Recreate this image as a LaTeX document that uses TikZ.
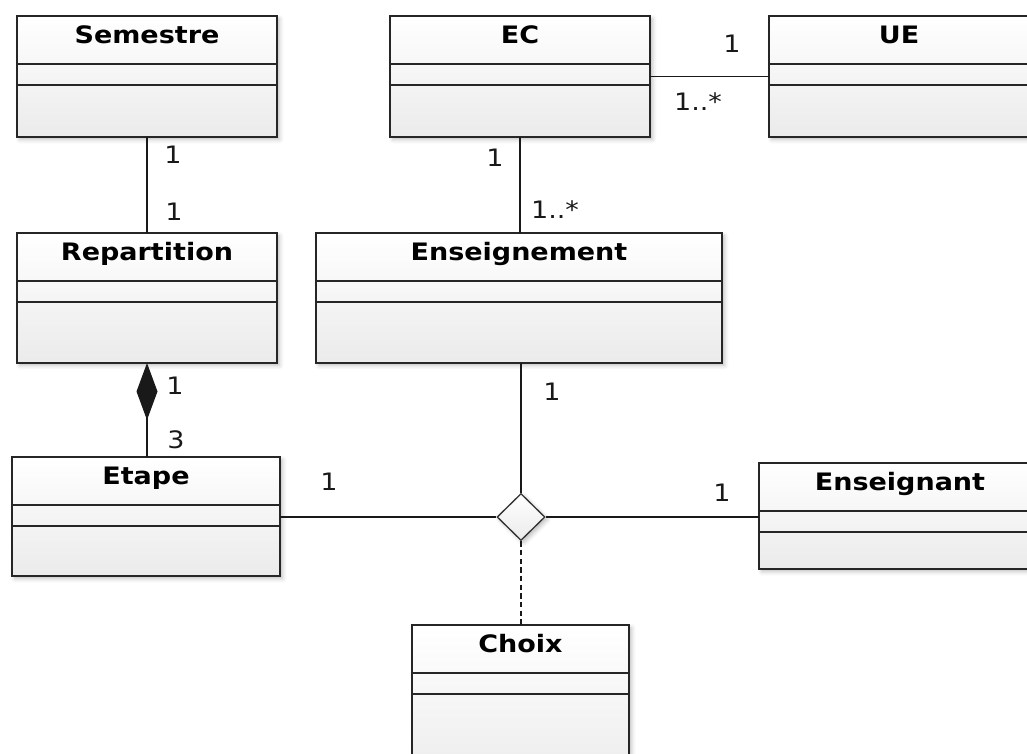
\documentclass[tikz,border=0pt]{standalone}
\usepackage{fontspec}
\usepackage{tikz}
\usetikzlibrary{calc,arrows.meta,shapes.geometric,shadows.blur}
\newfontfamily\classfont{DejaVu Sans}[FakeStretch=1.125]

\tikzset{
	classbox/.style={draw=black!85, line width=1.1pt, inner sep=0pt, outer sep=0pt,
		top color=white, bottom color=black!8,
		blur shadow={shadow xshift=2pt, shadow yshift=-2pt, shadow blur radius=3pt, shadow opacity=25}},
	classline/.style={line width=1.1pt, color=black!85},
	classtitle/.style={anchor=base, inner sep=0pt, font=\classfont\bfseries\fontsize{18}{21}\selectfont},
	mult/.style={anchor=base, inner sep=0pt, font=\classfont\fontsize{18}{21}\selectfont, color=black!90},
	connector/.style={line width=1pt, color=black!90},
}
% name, left, top, right, bottom, title (pixel coordinates)
\newcommand\umlclass[6]{%
	\node[classbox, minimum width={(#4-#2)*0.75pt}, minimum height={(#5-#3)*0.75pt}] (#1) at ({(#2+#4)/2}, {(#3+#5)/2}) {};
	\draw[classline] ([yshift=-36pt]#1.north west) -- ([yshift=-36pt]#1.north east);
	\draw[classline] ([yshift=-51.75pt]#1.north west) -- ([yshift=-51.75pt]#1.north east);
	\node[classtitle] (#1-title) at ([yshift=-20.25pt]#1.north) {#6};
}

\begin{document}
\begin{tikzpicture}[x=0.75pt, y=-0.75pt]
		%%%%% START %%%%%
		\useasboundingbox (0, 0) rectangle (1027, 753);
		
		\umlclass{semestre}{17}{16}{277}{137}{Semestre}
		\umlclass{ec}{390}{16}{650}{137}{EC}
		\umlclass{ue}{769}{16}{1029}{137}{UE}
		\umlclass{repartition}{17}{233}{277}{363}{Repartition}
		\umlclass{enseignement}{316}{233}{722}{363}{Enseignement}
		\umlclass{etape}{12}{457}{280}{576}{Etape}
		\umlclass{enseignant}{759}{463}{1041}{569}{Enseignant}
		\umlclass{choix}{412}{625}{629}{790}{Choix}
		
		\node[diamond, draw=black!80, line width=1pt, inner sep=0pt, minimum width=36pt, minimum height=35.25pt,
			top color=white, bottom color=black!8,
			blur shadow={shadow xshift=2pt, shadow yshift=-2pt, shadow blur radius=3pt, shadow opacity=25}] (assoc) at (521, 517) {};
		
		% associations
		\draw[connector] (semestre.south) -- (semestre.south |- repartition.north);
		\node[mult] at (173, 163) {1};
		\node[mult] at (174, 220) {1};
		
		\draw[connector] (ec.east) -- (ec.east -| ue.west);
		\node[mult] at (732, 52) {1};
		\node[mult] at (698, 110) {1..*};
		
		\draw[connector] (ec.south) -- (ec.south |- enseignement.north);
		\node[mult] at (495, 166) {1};
		\node[mult] at (555, 218) {1..*};
		
		\draw[connector, {Diamond[length=42.75pt, width=15.75pt]}-] (repartition.south) -- (repartition.south |- etape.north);
		\node[mult] at (175, 394) {1};
		\node[mult] at (176, 448) {3};
		
		% n-ary association
		\draw[connector] (assoc.north |- enseignement.south) -- (assoc.north);
		\node[mult] at (552, 400) {1};
		\draw[connector] (etape.east |- assoc.west) -- (assoc.west);
		\node[mult] at (329, 490) {1};
		\draw[connector] (assoc.east) -- (assoc.east -| enseignant.west);
		\node[mult] at (722, 501) {1};
		\draw[connector, dash pattern=on 4pt off 2.5pt] (assoc.south) -- (assoc.south |- choix.north);
		
		%%%%% END %%%%%
	\end{tikzpicture}
\end{document}
